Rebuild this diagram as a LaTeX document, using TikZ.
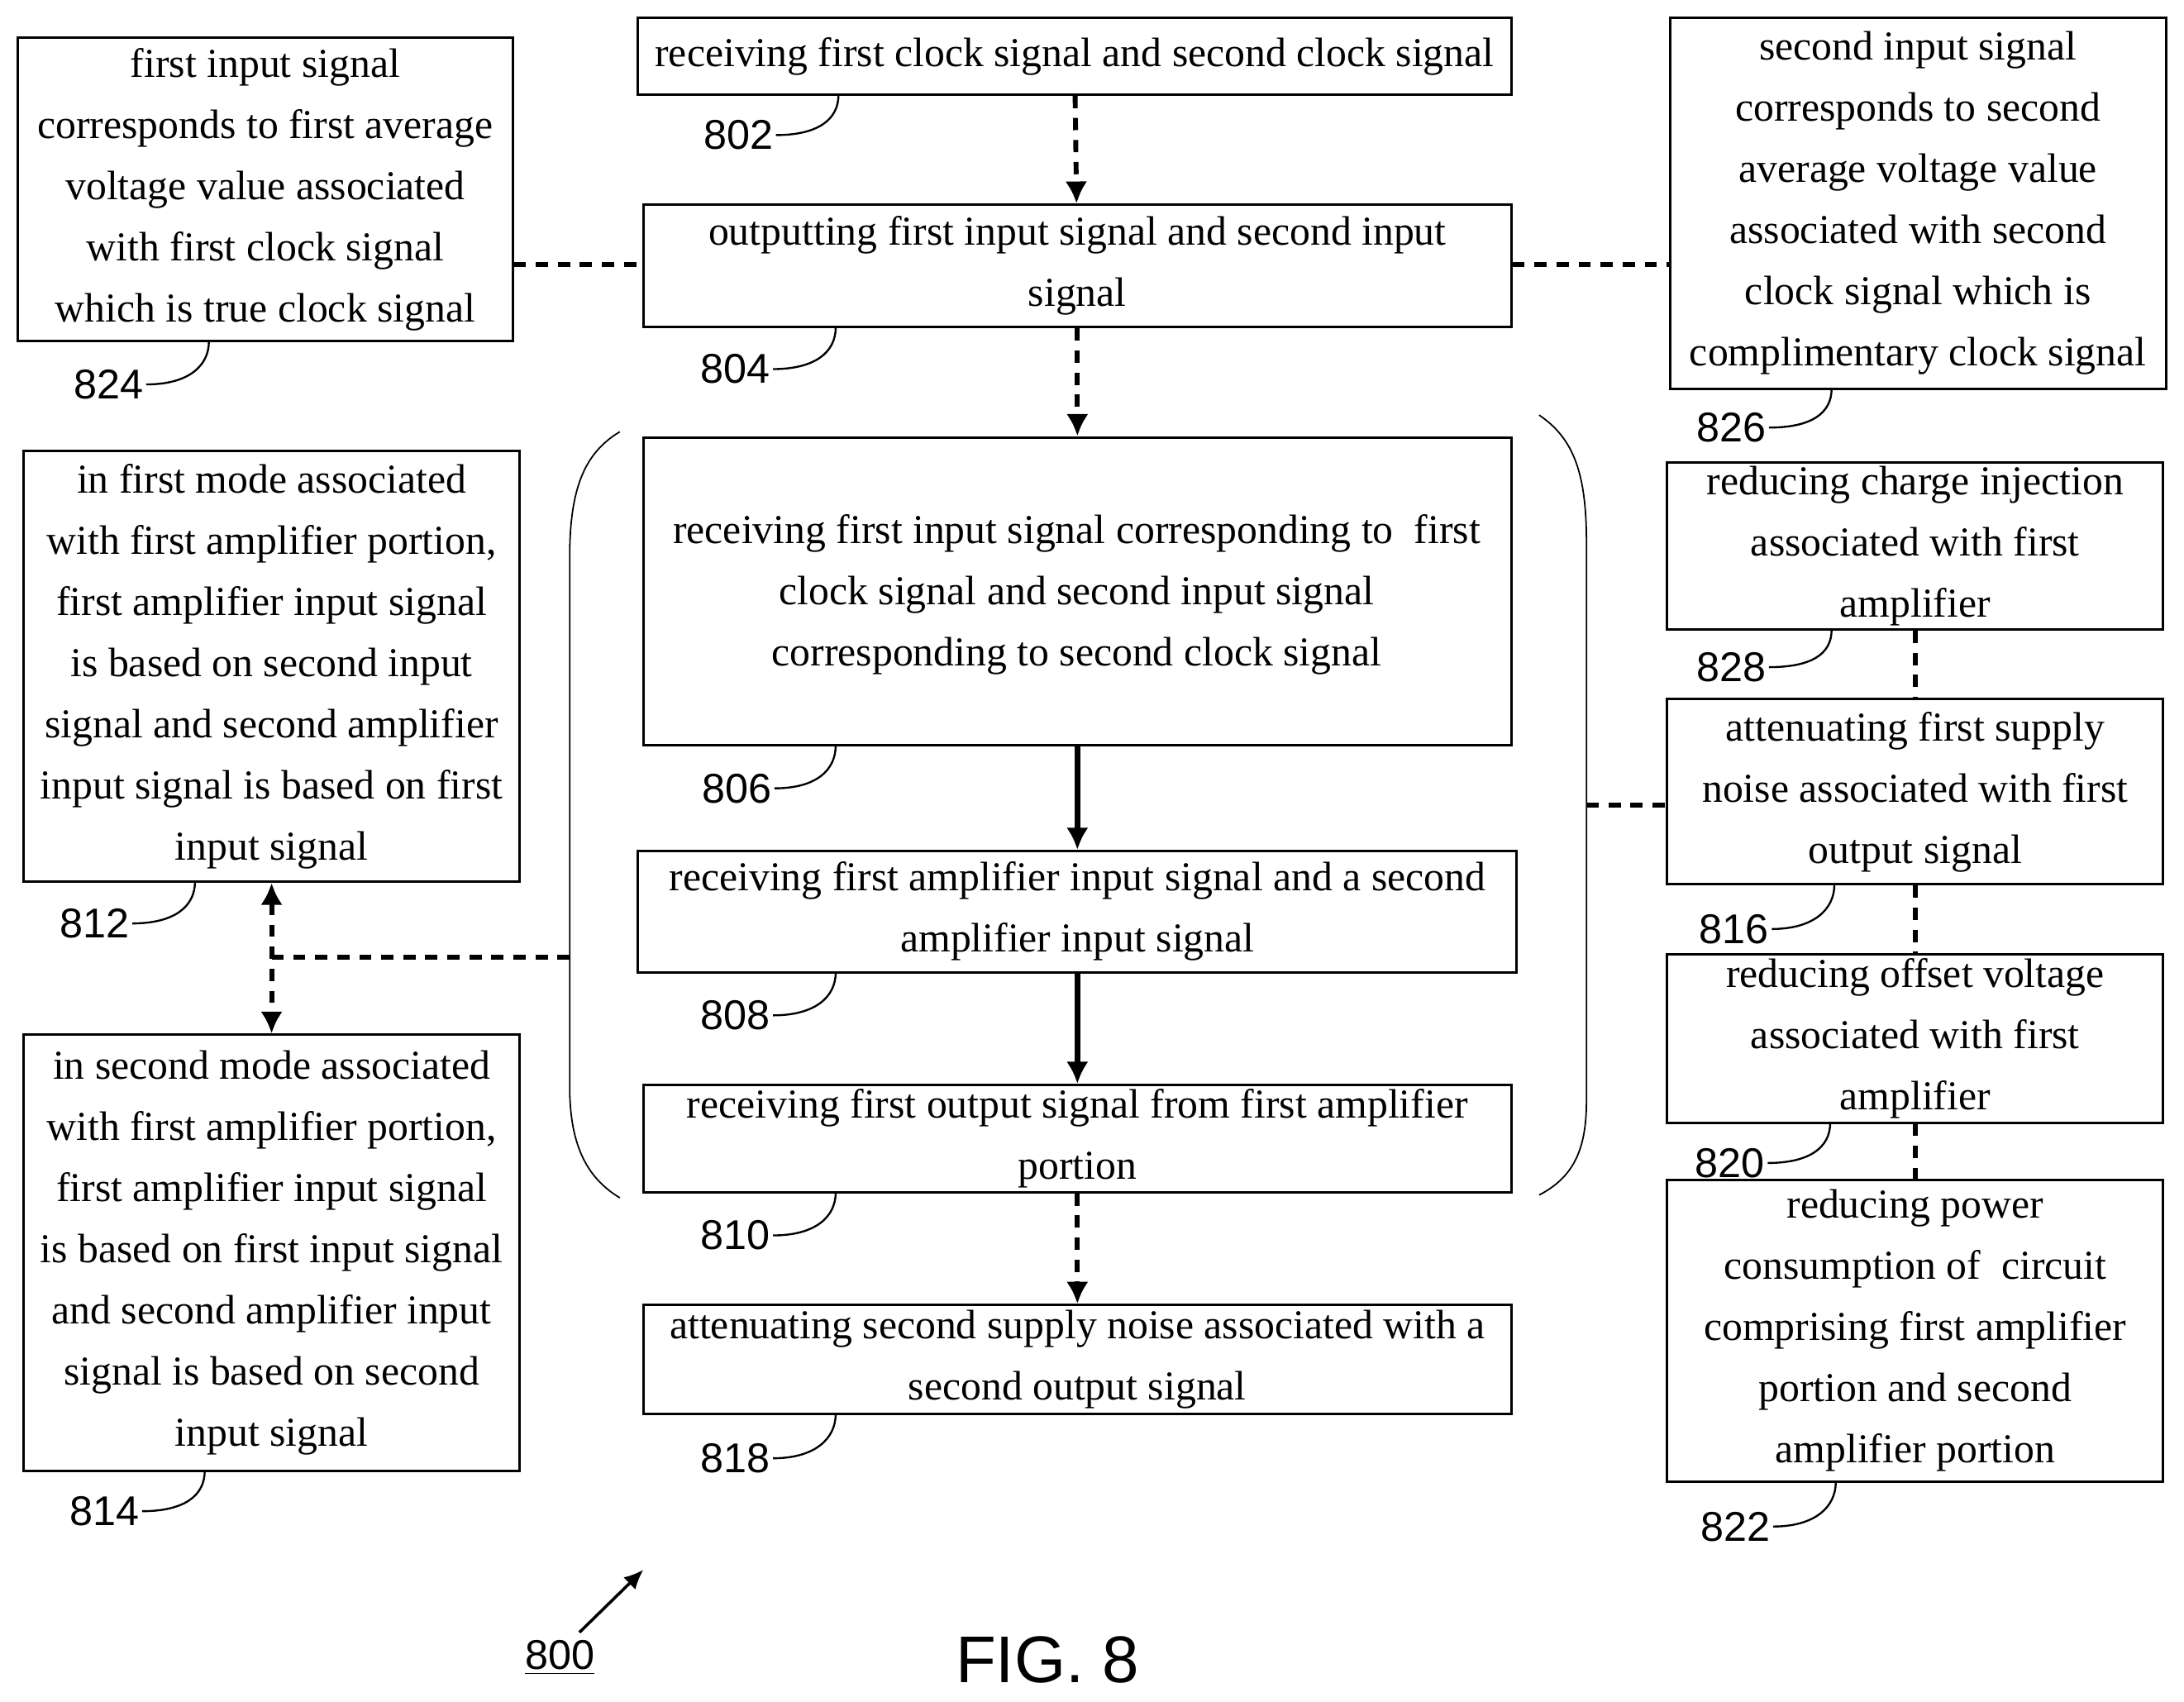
\documentclass[tikz,border=0pt]{standalone}
\usepackage{fontspec}
\setmainfont{Liberation Serif}
\setsansfont{Liberation Sans}
\usetikzlibrary{fit,arrows.meta}
\newcommand\mybox[6]{\node[draw,line width=1pt,fit={(#2,#3)(#4,#5)},inner sep=0pt](#1){};
\node[align=center,font=\fontsize{16.8}{25}\selectfont] at (#1.center){#6};}
\newcommand\lab[5]{\node[font=\sffamily\fontsize{17}{20}\selectfont,inner sep=1pt](l#1) at (#2,#3){#1};
\draw[line width=0.8pt] (l#1.east) .. controls +(30,0) and +(0,18) .. (#4,#5);}
\begin{document}
\begin{tikzpicture}[x=0.02cm,y=-0.02cm,
 dsh/.style={line width=2pt,dash pattern=on 5pt off 4pt},
 tip/.style={-{Latex[length=9pt,width=9pt]}}]
\useasboundingbox (0,0) rectangle (1568,1222);
\mybox{b802}{458}{13}{1085}{68}{receiving first clock signal and second clock signal}
\mybox{b804}{462}{147}{1085}{235}{outputting first input signal and second input\\signal}
\mybox{b806}{462}{314}{1085}{535}{}
\node[align=center,font=\fontsize{16.8}{25}\selectfont] (t806) at (773,427) {receiving first input signal corresponding to \ first\\clock signal and second input signal\\corresponding to second clock signal};
\mybox{b808}{458}{611}{1089}{698}{receiving first amplifier input signal and a second\\amplifier input signal}
\mybox{b810}{462}{779}{1085}{856}{receiving first output signal from first amplifier\\portion}
\mybox{b818}{462}{937}{1085}{1015}{attenuating second supply noise associated with a\\second output signal}
\mybox{b824}{13}{27}{368}{245}{first input signal\\corresponds to first average\\voltage value associated\\with first clock signal\\which is true clock signal}
\mybox{b826}{1199}{13}{1555}{279}{second input signal\\corresponds to second\\average voltage value\\associated with second\\clock signal which is\\complimentary clock signal}
\mybox{b812}{17}{324}{373}{633}{in first mode associated\\with first amplifier portion,\\first amplifier input signal\\is based on second input\\signal and second amplifier\\input signal is based on first\\input signal}
\mybox{b814}{17}{743}{373}{1056}{in second mode associated\\with first amplifier portion,\\first amplifier input signal\\is based on first input signal\\and second amplifier input\\signal is based on second\\input signal}
\mybox{b828}{1197}{332}{1553}{452}{reducing charge injection\\associated with first\\amplifier}
\mybox{b816}{1197}{502}{1553}{635}{attenuating first supply\\noise associated with first\\output signal}
\mybox{b820}{1197}{685}{1553}{806}{reducing offset voltage\\associated with first\\amplifier}
\mybox{b822}{1197}{847}{1553}{1064}{reducing power\\consumption of \ circuit\\comprising first amplifier\\portion and second\\amplifier portion}
% arrows
\draw[dsh,tip] (b802) -- (b804);
\draw[dsh,tip] (b804) -- (b806);
\draw[dsh,tip] (b810) -- (b818);
\draw[line width=2.5pt,tip] (b806) -- (b808);
\draw[line width=2.5pt,tip] (b808) -- (b810);
\draw[dsh] (b824.east|-0,190) -- (b804.west|-0,190);
\draw[dsh] (b804.east|-0,190) -- (b826.west|-0,190);
% bracket
\coordinate (bl) at (409,687);
\coordinate (br) at (1139,578);
\draw[line width=0.6pt] (445,310) .. controls (420,325) and (409,350) .. (409,400) -- (409,780) .. controls (409,820) and (420,845) .. (445,860);
\draw[line width=0.6pt] (1105,298) .. controls (1130,315) and (1139,340) .. (1139,390) -- (1139,790) .. controls (1139,825) and (1130,845) .. (1105,858);
\draw[dsh] (bl) -- (195,687);
\draw[dsh,{Latex[length=9pt,width=9pt]}-{Latex[length=9pt,width=9pt]}] (b812.south-|195,0) -- (b814.north-|195,0);
\draw[dsh] (br) -- (b816.west|-br);
\draw[dsh] (b828.south-|1375,0) -- (b816.north-|1375,0);
\draw[dsh] (b816.south-|1375,0) -- (b820.north-|1375,0);
\draw[dsh] (b820.south-|1375,0) -- (b822.north-|1375,0);
% labels
\lab{802}{530}{97}{602}{68}
\lab{804}{528}{265}{600}{235}
\lab{806}{529}{566}{600}{535}
\lab{808}{528}{729}{600}{698}
\lab{810}{528}{887}{600}{856}
\lab{818}{528}{1047}{600}{1015}
\lab{824}{78}{276}{150}{245}
\lab{826}{1243}{307}{1315}{279}
\lab{812}{68}{663}{140}{633}
\lab{814}{75}{1085}{147}{1056}
\lab{828}{1243}{479}{1315}{452}
\lab{816}{1245}{667}{1317}{635}
\lab{820}{1242}{835}{1314}{806}
\lab{822}{1246}{1096}{1318}{1064}
\node[font=\sffamily\fontsize{17}{20}\selectfont] (n800) at (402,1190) {\underline{800}};
\draw[line width=1.2pt,-{Latex[length=8pt,width=7pt]}] (416,1172) -- (462,1127);
\node[font=\sffamily\fontsize{27}{32}\selectfont] (fig) at (752,1192) {FIG. 8};
\end{tikzpicture}
\end{document}
